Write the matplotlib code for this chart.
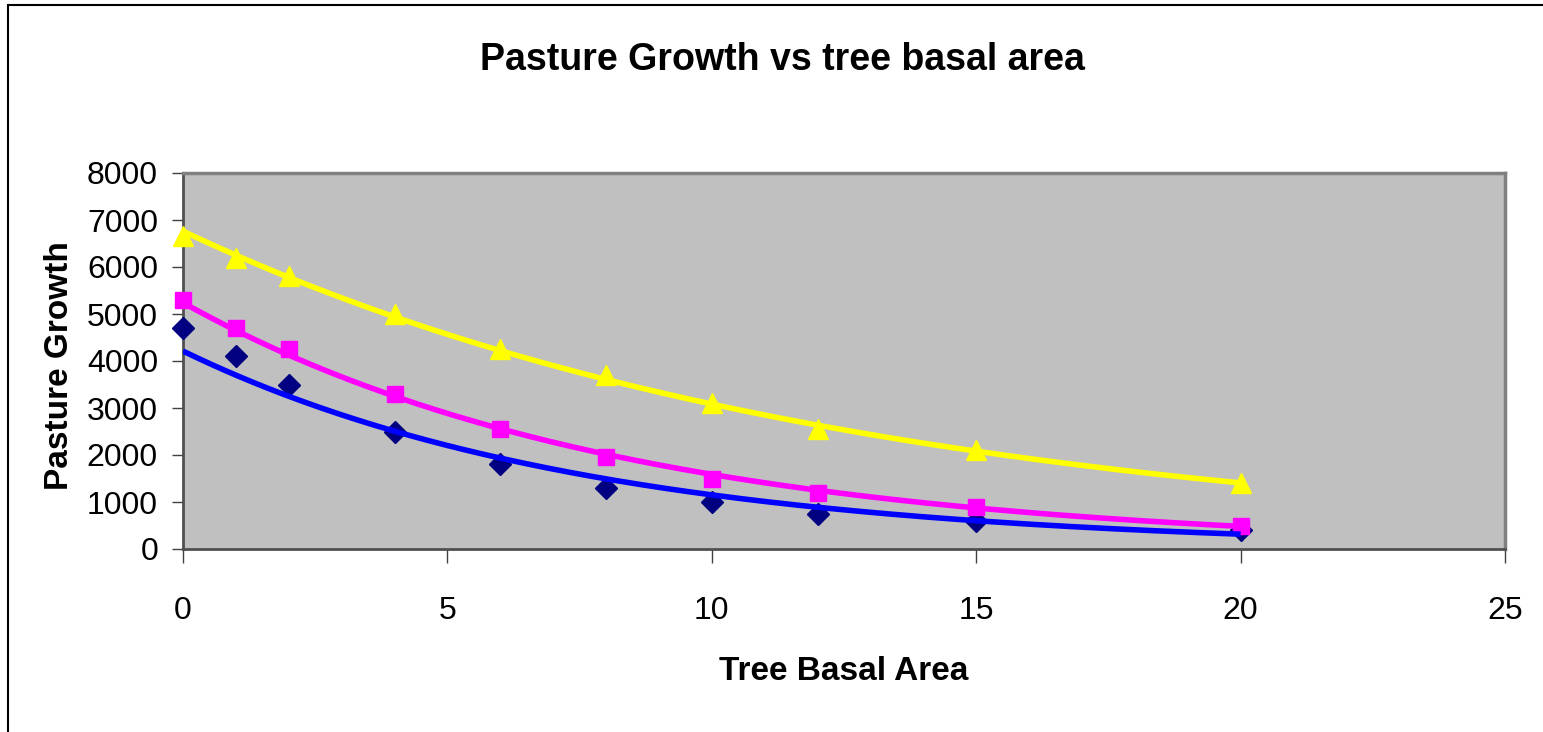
import numpy as np
import matplotlib
matplotlib.use("Agg")
import matplotlib.pyplot as plt
from matplotlib.patches import Rectangle

plt.rcParams['font.family'] = ['Liberation Sans', 'DejaVu Sans']

# Data
basal_area = [0, 1, 2, 4, 6, 8, 10, 12, 15, 20]
series_low = [4700, 4100, 3500, 2500, 1800, 1300, 1000, 750, 600, 400]
series_mid = [5300, 4700, 4250, 3300, 2550, 1950, 1500, 1200, 900, 500]
series_high = [6650, 6200, 5800, 5000, 4250, 3700, 3100, 2550, 2100, 1400]

title = "Pasture Growth vs tree basal area"
xlabel = "Tree Basal Area"
ylabel = "Pasture Growth"
xticks = [0, 5, 10, 15, 20, 25]
yticks = [0, 1000, 2000, 3000, 4000, 5000, 6000, 7000, 8000]

W, H = 1543, 732
fig = plt.figure(figsize=(W / 100, H / 100), dpi=100)
fig.patch.set_facecolor('white')

# outer chart border (right/bottom edges are cut off in the reference)
fig.patches.append(Rectangle((8 / W, -0.05), 1.2, (H - 5) / H + 0.05,
                             transform=fig.transFigure, fill=False,
                             edgecolor='black', linewidth=1.5, zorder=0))

left, right, top, bottom = 183, 1505, 173, 549
ax = fig.add_axes([left / W, 1 - bottom / H, (right - left) / W, (bottom - top) / H])
ax.set_facecolor('#C0C0C0')
ax.set_xlim(0, 25)
ax.set_ylim(0, 8000)

x = np.array(basal_area, dtype=float)
xs = np.linspace(0, 20, 300)

def exp_trend(yvals):
    b, a = np.polyfit(x, np.log(np.array(yvals, dtype=float)), 1)
    return np.exp(a + b * xs)

ax.plot(x, series_low, linestyle='none', marker='D', color='#000080', ms=11, zorder=3, clip_on=False)
ax.plot(x, series_mid, linestyle='none', marker='s', color='#FF00FF', ms=11, zorder=3, clip_on=False)
ax.plot(x, series_high, linestyle='none', marker='^', color='#FFFF00', ms=14, zorder=3, clip_on=False)

ax.plot(xs, exp_trend(series_low), color='#0000FF', lw=4, zorder=4, solid_capstyle='butt')
ax.plot(xs, exp_trend(series_mid), color='#FF00FF', lw=4, zorder=4, solid_capstyle='butt')
ax.plot(xs, exp_trend(series_high), color='#FFFF00', lw=4, zorder=4, solid_capstyle='butt')

ax.set_xticks(xticks)
ax.set_yticks(yticks)
ax.set_xticklabels([str(t) for t in xticks], fontsize=23)
ax.set_yticklabels([str(t) for t in yticks], fontsize=23)
ax.tick_params(axis='x', direction='out', length=10, width=1, color='#404040', pad=24)
ax.tick_params(axis='y', direction='out', length=8, width=1, color='#404040', pad=10)

for s in ['top', 'right']:
    ax.spines[s].set_color('#808080')
    ax.spines[s].set_linewidth(2.5)
for s in ['left', 'bottom']:
    ax.spines[s].set_color('#505050')
    ax.spines[s].set_linewidth(2)

fig.text(782 / W, 1 - 60 / H, title, ha='center', va='center', fontsize=27, fontweight='bold')
fig.text(844 / W, 1 - 671 / H, xlabel, ha='center', va='center', fontsize=24, fontweight='bold')
fig.text(59 / W, 1 - 366 / H, ylabel, ha='center', va='center', rotation=90, fontsize=24, fontweight='bold')

fig.savefig('out.png', dpi=100, facecolor='white')
